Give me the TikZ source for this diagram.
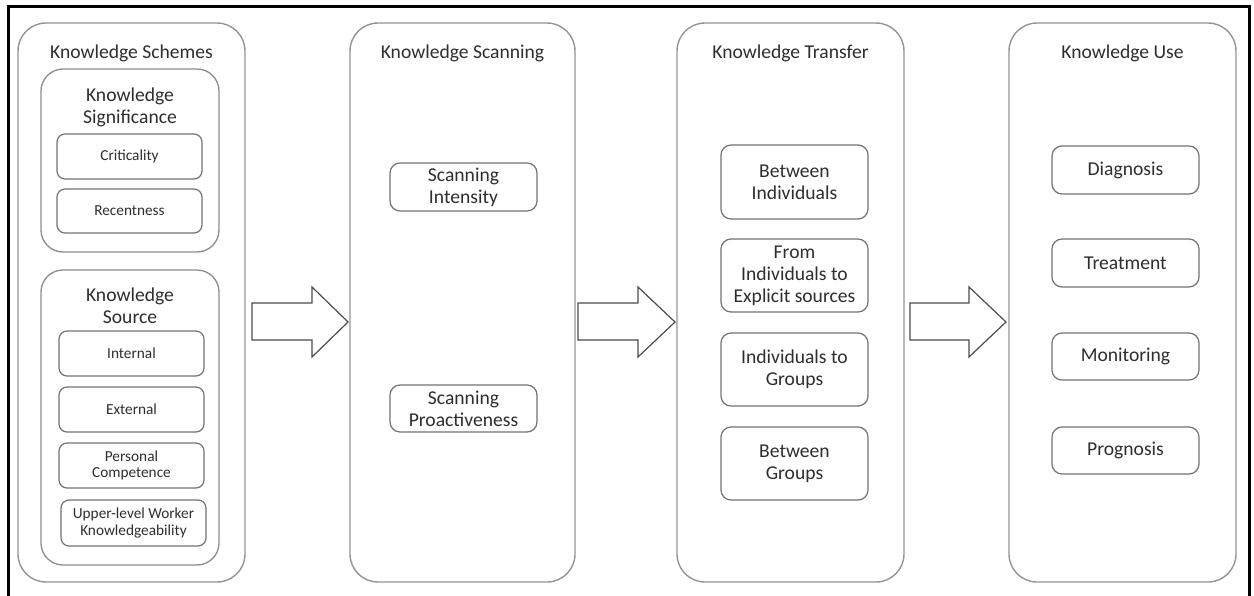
\documentclass[tikz,border=0pt]{standalone}
\usepackage{fontspec}
\setmainfont{Carlito}
\definecolor{txt}{HTML}{2E2E2E}
\begin{document}
\begin{tikzpicture}[x=1pt,y=-1pt,
  outerbox/.style={draw=black!42,line width=1.4pt,rounded corners=28pt,inner sep=0pt,fill=white},
  midbox/.style={draw=black!45,line width=1.3pt,rounded corners=22pt,inner sep=0pt},
  smallbox/.style={draw=black!55,line width=1.2pt,rounded corners=8pt,inner sep=0pt,
     text=txt,font=\fontsize{15.3}{16.7}\selectfont,align=center},
  itembox/.style={draw=black!55,line width=1.2pt,rounded corners=10pt,inner sep=0pt,
     text=txt,font=\fontsize{19.6}{22.2}\selectfont,align=center,minimum width=147pt},
  title/.style={text=txt,font=\fontsize{19.6}{21.7}\selectfont,align=center,inner sep=0pt},
  blockarrow/.style={draw=black!70,line width=1.2pt,fill=white,line join=miter},
  frameline/.style={draw=black,line width=3pt}
]
\useasboundingbox (0,0) rectangle (1254,595);
% frame
\draw[frameline] (8,600) -- (8,6) -- (1249,6) -- (1249,600);

% ---------- column 1 ----------
\node[outerbox,minimum width=227pt,minimum height=559pt] (schemes) at (131.5,302.5) {};
\node[title] (tschemes) at (131.5,53) {Knowledge Schemes};
\node[midbox,minimum width=178pt,minimum height=183pt] (signif) at (130,160.5) {};
\node[title] (tsignif) at (130,107.5) {Knowledge\\Significance};
\node[smallbox,minimum width=145pt,minimum height=45pt] (crit) at (129.5,156.5) {Criticality};
\node[smallbox,minimum width=145pt,minimum height=44pt] (rec) at (129.5,211) {Recentness};
\node[midbox,minimum width=178pt,minimum height=295pt] (source) at (130,417.5) {};
\node[title] (tsource) at (130,306) {Knowledge\\Source};
\node[smallbox,minimum width=145pt,minimum height=45pt] (int) at (131.5,353.5) {Internal};
\node[smallbox,minimum width=145pt,minimum height=45pt] (ext) at (131.5,409.5) {External};
\node[smallbox,minimum width=145pt,minimum height=45pt] (pers) at (131.5,465.5) {Personal\\Competence};
\node[smallbox,minimum width=145pt,minimum height=46pt] (upper) at (133.5,523) {Upper-level Worker\\Knowledgeability};

% ---------- column 2 ----------
\node[outerbox,minimum width=225pt,minimum height=559pt] (scanning) at (462.5,302.5) {};
\node[title] (tscanning) at (462.5,53) {Knowledge Scanning};
\node[itembox,minimum height=48pt] (intens) at (463.5,187) {Scanning\\Intensity};
\node[itembox,minimum height=47pt] (proact) at (463.5,408.5) {Scanning\\Proactiveness};

% ---------- column 3 ----------
\node[outerbox,minimum width=227pt,minimum height=559pt] (transfer) at (790.5,302.5) {};
\node[title] (ttransfer) at (790.5,53) {Knowledge Transfer};
\node[itembox,minimum height=74pt] (betind) at (794.5,182) {Between\\Individuals};
\node[itembox,minimum height=73pt] (fromind) at (794.5,275.5) {From\\Individuals to\\Explicit sources};
\node[itembox,minimum height=73pt] (indgrp) at (794.5,369.5) {Individuals to\\Groups};
\node[itembox,minimum height=73pt] (betgrp) at (794.5,463.5) {Between\\Groups};

% ---------- column 4 ----------
\node[outerbox,minimum width=227pt,minimum height=559pt] (use) at (1122.5,302.5) {};
\node[title] (tuse) at (1122.5,53) {Knowledge Use};
\node[itembox,minimum height=48pt] (diag) at (1125.5,170) {Diagnosis};
\node[itembox,minimum height=48pt] (treat) at (1125.5,263) {Treatment};
\node[itembox,minimum height=47pt] (monit) at (1125.5,356.5) {Monitoring};
\node[itembox,minimum height=47pt] (progn) at (1125.5,450.5) {Prognosis};

% ---------- block arrows ----------
\draw[blockarrow] (252,303) -- (312,303) -- (312,287) -- (348,322) -- (312,357) -- (312,340) -- (252,340) -- cycle;
\draw[blockarrow] (578,303) -- (638,303) -- (638,287) -- (675,322) -- (638,357) -- (638,340) -- (578,340) -- cycle;
\draw[blockarrow] (910,303) -- (969,303) -- (969,287) -- (1006,322) -- (969,357) -- (969,340) -- (910,340) -- cycle;
\end{tikzpicture}
\end{document}
